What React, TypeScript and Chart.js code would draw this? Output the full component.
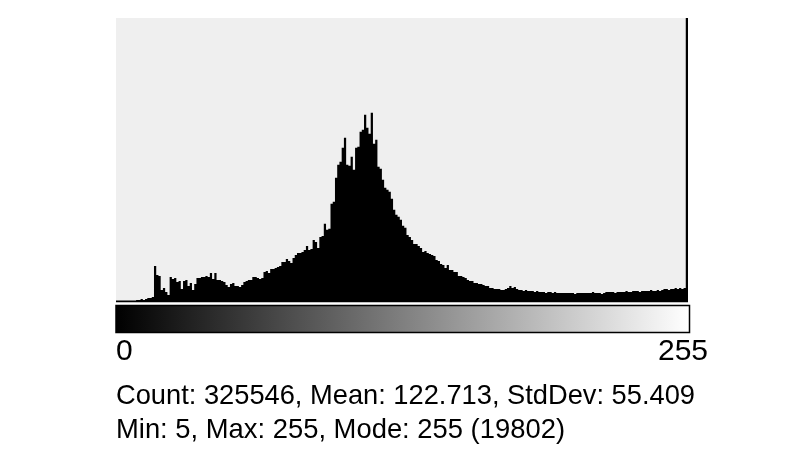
import React, { useEffect, useRef } from "react";
import { Chart, registerables } from "chart.js";

Chart.register(...registerables);

// Histogram bins 0..255 (pixel counts per grey level)
const counts: number[] = [
  // 0-16
  0, 0, 0, 0, 0, 33, 33, 33, 33, 66, 66, 99, 66, 99, 132, 132, 165,
  // 17-35
  1188, 891, 858, 396, 462, 330, 231, 825, 759, 792, 660, 693, 429, 693, 726, 528, 627, 396, 594,
  // 36-65
  792, 792, 825, 825, 858, 825, 957, 759, 957, 726, 726, 693, 660, 561, 495, 594, 627, 528, 528, 495,
  561, 660, 693, 726, 726, 825, 825, 792, 759, 792,
  // 66-95
  990, 1023, 957, 1089, 1089, 1122, 1155, 1188, 1320, 1320, 1419, 1353, 1287, 1452, 1551, 1617, 1617, 1650, 1716, 1848,
  1716, 1749, 2046, 1980, 1782, 2145, 2178, 2574, 2376, 2409,
  // 96-125
  3234, 3300, 4092, 4521, 4620, 5082, 5412, 4521, 4488, 4785, 4356, 5082, 5115, 5610, 5676, 6171, 5742, 5544, 6237, 5214,
  5346, 4455, 4389, 4026, 3762, 3696, 3630, 3399, 3036, 2871,
  // 126-155
  2805, 2706, 2508, 2442, 2211, 2145, 2046, 1914, 1914, 1848, 1782, 1650, 1683, 1617, 1584, 1551, 1518, 1386, 1353, 1254,
  1221, 1122, 1221, 1056, 1056, 990, 990, 858, 858, 825,
  // 156-189
  792, 726, 693, 693, 627, 627, 594, 594, 561, 528, 528, 462, 462, 429, 429, 429, 396, 396, 429, 462,
  528, 462, 495, 429, 396, 396, 363, 396, 363, 363, 363, 330, 363, 330,
  // 190-199
  330, 330, 297, 330, 330, 297, 330, 297, 297, 297,
  // 200-209
  297, 297, 297, 297, 297, 264, 297, 297, 297, 297,
  // 210-219
  297, 297, 297, 330, 297, 297, 297, 264, 297, 330,
  // 220-229
  330, 330, 330, 297, 330, 330, 330, 330, 363, 330,
  // 230-239
  330, 363, 363, 363, 330, 363, 363, 363, 363, 396,
  // 240-249
  363, 363, 396, 363, 396, 429, 429, 396, 429, 429,
  // 250-255
  462, 429, 462, 429, 462, 19802,
];

const rangeLabels: string[] = ["0", "255"];
const statsLines: string[] = [
  "Count: 325546, Mean: 122.713, StdDev: 55.409",
  "Min: 5, Max: 255, Mode: 255 (19802)",
];

const FONT = '"Liberation Sans", Arial, Helvetica, sans-serif';

export default function App() {
  const ref = useRef<HTMLCanvasElement | null>(null);

  useEffect(() => {
    if (!ref.current) return;
    const sorted = [...counts].sort((a, b) => b - a);
    const yMax = sorted[1] * 1.5;
    const nBins = counts.length;
    // step histogram: each bin value held from its left edge to the next one
    const points = counts.map((c, i) => ({ x: i, y: c }));
    points.push({ x: nBins, y: counts[nBins - 1] });

    const decor = {
      id: "decor",
      beforeDatasetsDraw(chart: any) {
        const { ctx, chartArea } = chart;
        ctx.save();
        ctx.fillStyle = "#ffffff";
        ctx.fillRect(0, 0, chart.width, chart.height);
        ctx.fillStyle = "#efefef";
        ctx.fillRect(chartArea.left, chartArea.top, chartArea.right - chartArea.left, chartArea.bottom - chartArea.top);
        ctx.restore();
      },
      afterDatasetsDraw(chart: any) {
        const { ctx, chartArea } = chart;
        const L = chartArea.left;
        const R = chartArea.right;
        ctx.save();
        // baseline
        ctx.strokeStyle = "#000";
        ctx.lineWidth = 1.6;
        ctx.beginPath();
        ctx.moveTo(L, chartArea.bottom - 0.6);
        ctx.lineTo(R, chartArea.bottom - 0.6);
        ctx.stroke();

        // grey ramp
        const gy = chartArea.bottom + 3.5;
        const gh = 27;
        const gR = R + 1.5;
        const grad = ctx.createLinearGradient(L, 0, gR, 0);
        grad.addColorStop(0, "#000000");
        grad.addColorStop(1, "#ffffff");
        ctx.fillStyle = grad;
        ctx.fillRect(L, gy, gR - L, gh);
        ctx.strokeStyle = "#000";
        ctx.lineWidth = 1.5;
        ctx.strokeRect(L, gy, gR - L, gh);

        // range labels
        ctx.fillStyle = "#000";
        ctx.font = `30px ${FONT}`;
        ctx.textBaseline = "alphabetic";
        ctx.textAlign = "left";
        ctx.fillText(rangeLabels[0], L, 360);
        ctx.textAlign = "right";
        ctx.fillText(rangeLabels[1], 708, 360);

        // stats
        ctx.textAlign = "left";
        ctx.font = `28px ${FONT}`;
        ctx.fillText(statsLines[0], L, 404, 579);
        ctx.fillText(statsLines[1], L, 438, 449);
        ctx.restore();
      },
    };

    const chart = new Chart(ref.current, {
      type: "line",
      data: {
        datasets: [
          {
            data: points,
            stepped: true,
            fill: "origin",
            backgroundColor: "#000000",
            borderColor: "#000000",
            borderWidth: 0,
            pointRadius: 0,
          },
        ],
      },
      options: {
        responsive: false,
        animation: false,
        layout: { padding: { left: 116, right: 112, top: 18, bottom: 148 } },
        plugins: { legend: { display: false }, tooltip: { enabled: false } },
        scales: {
          x: { type: "linear", display: false, min: 0, max: nBins },
          y: { display: false, min: 0, max: yMax },
        },
      },
      plugins: [decor],
    });
    return () => chart.destroy();
  }, []);

  return (
    <canvas
      ref={ref}
      width={800}
      height={450}
      style={{ position: "absolute", left: 0, top: 0, width: 800, height: 450, display: "block" }}
    />
  );
}
